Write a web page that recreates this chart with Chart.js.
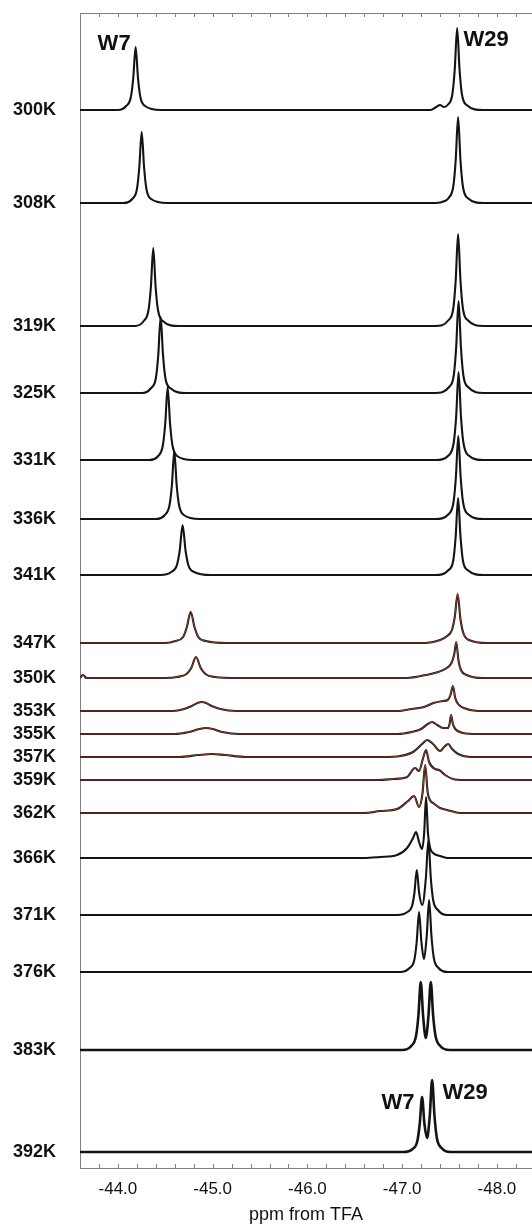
<!DOCTYPE html>
<html>
<head>
<meta charset="UTF-8">
<title>19F NMR spectra vs temperature</title>
<script src="https://cdn.jsdelivr.net/npm/chart.js"></script>
<style>
  body { margin: 0; background: #fff; }
</style>
</head>
<body>
<canvas id="nmrChart" width="532" height="1226"></canvas>
<script>
// temperatures, top to bottom, and the vertical stacking offset of each trace
var temps = ['300K', '308K', '319K', '325K', '331K', '336K', '341K', '347K', '350K', '353K',
             '355K', '357K', '359K', '362K', '366K', '371K', '376K', '383K', '392K'];
var offsets = [1058, 965, 842, 775, 708, 649, 593, 525, 490, 457,
               434, 411, 388, 355, 310, 253, 196, 118, 16];

// x axis (ppm from TFA)
var xLeft = -43.6, xRight = -48.37;
var xTicks = [-44, -45, -46, -47, -48];

// spectra: [ppm, intensity]
var s300 = [[-43.60,0],[-44.00,0],[-44.087,4],[-44.137,13],[-44.162,32],[-44.187,63],[-44.212,32],[-44.237,13],[-44.287,4],[-44.45,0],
            [-47.30,0],[-47.36,3],[-47.40,5],[-47.44,3],[-47.48,5],[-47.53,16],[-47.555,41],[-47.58,82],[-47.605,41],[-47.63,16],[-47.68,5],[-47.85,0],[-48.37,0]];
var s308 = [[-43.60,0],[-44.06,0],[-44.151,4],[-44.201,14],[-44.226,36],[-44.251,71],[-44.276,36],[-44.301,14],[-44.351,4],[-44.52,0],
            [-47.35,0],[-47.45,2],[-47.49,5],[-47.54,17],[-47.565,43],[-47.59,86],[-47.615,43],[-47.64,17],[-47.69,5],[-47.86,0],[-48.37,0]];
var s319 = [[-43.60,0],[-44.18,0],[-44.273,5],[-44.323,16],[-44.348,39],[-44.373,78],[-44.398,39],[-44.423,16],[-44.473,5],[-44.64,0],
            [-47.35,0],[-47.49,6],[-47.54,18],[-47.565,46],[-47.59,92],[-47.615,46],[-47.64,18],[-47.69,6],[-47.86,0],[-48.37,0]];
var s325 = [[-43.60,0],[-44.26,0],[-44.351,5],[-44.401,15],[-44.426,38],[-44.451,76],[-44.476,38],[-44.501,15],[-44.551,5],[-44.72,0],
            [-47.35,0],[-47.495,6],[-47.545,18],[-47.57,46],[-47.595,92],[-47.62,46],[-47.645,18],[-47.695,6],[-47.86,0],[-48.37,0]];
var s331 = [[-43.60,0],[-44.33,0],[-44.425,4],[-44.475,15],[-44.50,37],[-44.525,73],[-44.55,37],[-44.575,15],[-44.625,4],[-44.79,0],
            [-47.35,0],[-47.495,5],[-47.545,18],[-47.57,44],[-47.595,88],[-47.62,44],[-47.645,18],[-47.695,5],[-47.86,0],[-48.37,0]];
var s336 = [[-43.60,0],[-44.40,0],[-44.495,4],[-44.545,14],[-44.57,34],[-44.595,68],[-44.62,34],[-44.645,14],[-44.695,4],[-44.86,0],
            [-47.35,0],[-47.492,5],[-47.542,17],[-47.567,42],[-47.592,83],[-47.617,42],[-47.642,17],[-47.692,5],[-47.86,0],[-48.37,0]];
var s341 = [[-43.60,0],[-44.45,0],[-44.563,3],[-44.623,10],[-44.653,25],[-44.683,50],[-44.713,25],[-44.743,10],[-44.803,3],[-44.98,0],
            [-47.35,0],[-47.49,5],[-47.54,15],[-47.565,39],[-47.59,77],[-47.615,39],[-47.64,15],[-47.69,5],[-47.86,0],[-48.37,0]];
var s347 = [[-43.60,0],[-44.50,0],[-44.608,2],[-44.688,6],[-44.728,16],[-44.768,31],[-44.808,16],[-44.848,6],[-44.928,2],[-45.15,0],
            [-47.25,0],[-47.40,3],[-47.475,7],[-47.525,13],[-47.555,26],[-47.585,49],[-47.615,24],[-47.645,10],[-47.705,3],[-47.90,0],[-48.37,0]];
var s350 = [[-43.60,0],[-43.63,3],[-43.67,0],[-44.50,0],[-44.624,1],[-44.724,4],[-44.774,10],[-44.824,21],[-44.874,10],[-44.924,4],[-45.024,1],[-45.25,0],
            [-47.05,0],[-47.25,3],[-47.38,6],[-47.47,10],[-47.52,15],[-47.55,24],[-47.57,36],[-47.595,17],[-47.62,8],[-47.68,3],[-47.85,0],[-48.37,0]];
var s353 = [[-43.60,0],[-44.58,0],[-44.70,2],[-44.78,5],[-44.84,8],[-44.884,9],[-44.93,8],[-44.99,5],[-45.08,2],[-45.25,0],
            [-46.95,0],[-47.10,2],[-47.23,4],[-47.33,8],[-47.43,10],[-47.48,11],[-47.51,16],[-47.535,25],[-47.56,13],[-47.59,7],[-47.65,3],[-47.80,0],[-48.37,0]];
var s355 = [[-43.60,0],[-44.60,0],[-44.75,2],[-44.86,5],[-44.93,6],[-45.00,5],[-45.10,2],[-45.28,0],
            [-46.95,0],[-47.10,2],[-47.20,5],[-47.27,10],[-47.316,12],[-47.37,9],[-47.43,6],[-47.485,6],[-47.50,10],[-47.516,19],[-47.535,10],[-47.56,5],[-47.64,1],[-47.80,0],[-48.37,0]];
var s357 = [[-43.60,0],[-44.65,0],[-44.85,2],[-44.99,3],[-45.13,2],[-45.35,0],
            [-46.80,0],[-46.978,1],[-47.115,5],[-47.21,13],[-47.263,17],[-47.326,13],[-47.40,6],[-47.442,10],[-47.485,13],[-47.527,8],[-47.59,3],[-47.717,0],[-48.37,0]];
var s359 = [[-43.60,0],[-46.75,0],[-46.904,1],[-47.052,3],[-47.136,12],[-47.178,9],[-47.221,22],[-47.252,30],[-47.284,18],[-47.347,11],[-47.39,10],[-47.453,5],[-47.537,1],[-47.65,0],[-48.37,0]];
var s362 = [[-43.60,0],[-46.60,0],[-46.767,2],[-46.946,4],[-47.062,12],[-47.126,17],[-47.178,6],[-47.215,20],[-47.242,48],[-47.27,20],[-47.30,12],[-47.326,10],[-47.40,5],[-47.474,3],[-47.611,0],[-48.37,0]];
var s366 = [[-43.60,0],[-46.60,0],[-46.767,1],[-46.946,3],[-47.052,10],[-47.115,20],[-47.147,26],[-47.178,16],[-47.21,9],[-47.232,25],[-47.252,61],[-47.272,25],[-47.295,10],[-47.326,5],[-47.40,2],[-47.474,0],[-48.37,0]];
var s371 = [[-43.60,0],[-46.95,0],[-47.054,3],[-47.104,9],[-47.129,22],[-47.154,45],[-47.179,22],[-47.212,10],[-47.25,37],[-47.277,75],[-47.302,37],[-47.327,15],[-47.377,5],[-47.47,0],[-48.37,0]];
var s376 = [[-43.60,0],[-46.98,0],[-47.078,4],[-47.128,12],[-47.153,30],[-47.178,60],[-47.203,30],[-47.23,13],[-47.259,36],[-47.284,72],[-47.309,36],[-47.334,14],[-47.384,4],[-47.48,0],[-48.37,0]];
var s383 = [[-43.60,0],[-47.00,0],[-47.096,4],[-47.146,14],[-47.171,34],[-47.196,68],[-47.221,34],[-47.249,12],[-47.277,34],[-47.302,68],[-47.327,34],[-47.352,14],[-47.402,4],[-47.50,0],[-48.37,0]];
var s392 = [[-43.60,0],[-47.01,0],[-47.11,3],[-47.16,11],[-47.185,28],[-47.21,55],[-47.235,28],[-47.263,14],[-47.291,36],[-47.316,72],[-47.341,36],[-47.366,14],[-47.416,4],[-47.51,0],[-48.37,0]];

var spectra = [s300, s308, s319, s325, s331, s336, s341, s347, s350, s353,
               s355, s357, s359, s362, s366, s371, s376, s383, s392];

// traces that carry a fitted line (drawn in red)
var fittedTemps = ['347K', '350K', '353K', '355K', '357K', '359K', '362K'];

// peak labels: text, ppm, trace index, height above that trace
var peakNotes = [
  ['W7',  -43.96, 0, 66],
  ['W29', -47.886, 0, 70],
  ['W7',  -46.957, 18, 49],
  ['W29', -47.664, 18, 59]
];

var datasets = [];
spectra.forEach(function(s, i){
    var pts = s.map(function(p){ return {x: p[0], y: p[1] + offsets[i]}; });
    datasets.push({
        label: temps[i],
        data: pts,
        borderColor: '#141414',
        borderWidth: i >= 17 ? 2.6 : 2.1,
        order: 2
    });
    if (fittedTemps.indexOf(temps[i]) >= 0) {
        datasets.push({
            label: temps[i] + ' fit',
            data: pts,
            borderColor: 'rgba(235,95,60,0.6)',
            borderWidth: 0.9,
            order: 1
        });
    }
});

// y ticks sorted bottom-up
var yTickValues = offsets.slice().sort(function(a, b){ return a - b; });

var FONT = '"Liberation Sans", Arial, Helvetica, sans-serif';

var frame = {
    id: 'frame',
    afterDatasetsDraw: function(chart){
        var ctx = chart.ctx, a = chart.chartArea, xs = chart.scales.x, ys = chart.scales.y;
        ctx.save();
        ctx.strokeStyle = '#808080';
        ctx.lineWidth = 1;
        ctx.beginPath();
        ctx.moveTo(a.left, a.top + 0.5);
        ctx.lineTo(a.right, a.top + 0.5);
        // inward minor ticks every 0.2 ppm on top and bottom
        for (var k = 1; k <= 24; k++) {
            var v = -43.6 - 0.2 * k;
            var px = Math.round(xs.getPixelForValue(v)) + 0.5;
            ctx.moveTo(px, a.top);
            ctx.lineTo(px, a.top + 4);
            ctx.moveTo(px, a.bottom);
            ctx.lineTo(px, a.bottom - 4);
        }
        ctx.stroke();

        ctx.fillStyle = '#111';
        ctx.font = 'bold 22px ' + FONT;
        ctx.textAlign = 'center';
        ctx.textBaseline = 'middle';
        peakNotes.forEach(function(n){
            ctx.fillText(n[0], xs.getPixelForValue(n[1]), ys.getPixelForValue(offsets[n[2]] + n[3]));
        });
        ctx.restore();
    }
};

new Chart(document.getElementById('nmrChart'), {
    type: 'line',
    data: { datasets: datasets },
    options: {
        responsive: false,
        animation: false,
        devicePixelRatio: 1,
        layout: { padding: { top: 13, right: 0, bottom: 0, left: 13 } },
        elements: {
            point: { radius: 0 },
            line: { cubicInterpolationMode: 'monotone' }
        },
        plugins: { legend: { display: false }, tooltip: { enabled: false } },
        scales: {
            x: {
                type: 'linear',
                min: xRight,
                max: xLeft,
                reverse: true,
                grid: { display: false, drawTicks: false },
                border: { display: true, color: '#808080', width: 1 },
                afterBuildTicks: function(scale){
                    scale.ticks = xTicks.map(function(v){ return {value: v}; });
                },
                ticks: {
                    autoSkip: false,
                    maxRotation: 0,
                    padding: 11,
                    color: '#111',
                    font: { family: FONT, size: 17 },
                    callback: function(v){ return Number(v).toFixed(1); }
                },
                title: {
                    display: true,
                    text: 'ppm from TFA',
                    color: '#111',
                    font: { family: FONT, size: 18 },
                    padding: { top: 2, bottom: 0 }
                },
                afterFit: function(scale){ scale.height = 58; }
            },
            y: {
                type: 'linear',
                min: 0,
                max: 1155,
                grid: { display: false, drawTicks: false },
                border: { display: true, color: '#808080', width: 1 },
                afterBuildTicks: function(scale){
                    scale.ticks = yTickValues.map(function(v){ return {value: v}; });
                },
                ticks: {
                    autoSkip: false,
                    padding: 0,
                    crossAlign: 'far',
                    color: '#111',
                    font: { family: FONT, size: 18, weight: 'bold' },
                    callback: function(v){ return temps[offsets.indexOf(v)]; }
                },
                afterFit: function(scale){ scale.width = 67; }
            }
        }
    },
    plugins: [frame]
});
</script>
</body>
</html>
